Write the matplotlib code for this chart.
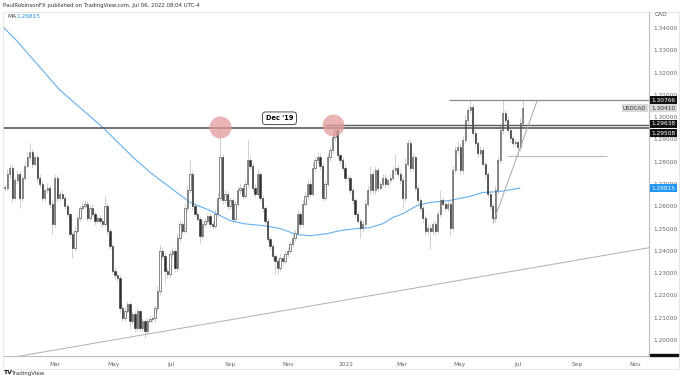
import numpy as np
import matplotlib
matplotlib.use('Agg')
import matplotlib.pyplot as plt
import matplotlib.dates as mdates
from matplotlib.transforms import blended_transform_factory
from matplotlib.patches import Rectangle

plt.rcParams['font.family'] = ['DejaVu Sans']

# ---- USDCAD daily closes, Jan 2021 -> Jul 2022 ----
closes = [
    1.2684, 1.2747, 1.2774, 1.2639, 1.2716, 1.2747, 1.2639, 1.2729, 1.2783, 1.2819, 1.2842, 1.2792, 1.2819, 1.2729, 1.2702, 1.2639,
    1.2671, 1.2684, 1.2612, 1.2522, 1.2729, 1.2639, 1.2657, 1.2639, 1.2603, 1.2567, 1.2477, 1.2414, 1.2491, 1.2549, 1.2594, 1.2603,
    1.2612, 1.2549, 1.2594, 1.2567, 1.2536, 1.2549, 1.2536, 1.2522, 1.2603, 1.2491, 1.2423, 1.2311, 1.2293, 1.2279, 1.2144, 1.2099,
    1.2131, 1.2162, 1.2086, 1.2117, 1.2054, 1.2131, 1.2054, 1.2086, 1.2041, 1.2086, 1.2095, 1.2099, 1.2144, 1.2221, 1.2401, 1.2378,
    1.2311, 1.2297, 1.2387, 1.2401, 1.2324, 1.2459, 1.2522, 1.2491, 1.2594, 1.2671, 1.2747, 1.2603, 1.2567, 1.2545, 1.2468, 1.2522,
    1.2536, 1.2558, 1.2522, 1.2513, 1.2567, 1.2639, 1.2819, 1.2626, 1.2657, 1.2603, 1.2626, 1.2545, 1.2612, 1.2671, 1.2684, 1.2648,
    1.2702, 1.2806, 1.2783, 1.2684, 1.2657, 1.2747, 1.2639, 1.2594, 1.2536, 1.2455, 1.2423, 1.2378, 1.2356, 1.2324, 1.2369, 1.2356,
    1.2387, 1.2401, 1.2432, 1.2459, 1.2482, 1.2567, 1.2522, 1.2612, 1.2648, 1.2702, 1.2657, 1.2774, 1.2806, 1.2819, 1.2783, 1.2639,
    1.2702, 1.2819, 1.2851, 1.2909, 1.2941, 1.2828, 1.2806, 1.2774, 1.2725, 1.2729, 1.2671, 1.2626, 1.2567, 1.2536, 1.2504, 1.2522,
    1.2612, 1.2671, 1.2747, 1.2671, 1.2761, 1.2684, 1.2702, 1.2729, 1.2702, 1.2716, 1.2729, 1.2761, 1.2774, 1.2747, 1.2716, 1.2639,
    1.2792, 1.2882, 1.2774, 1.2819, 1.2684, 1.2626, 1.2594, 1.2549, 1.2491, 1.2504, 1.2491, 1.2522, 1.2491, 1.2567, 1.2626, 1.2612,
    1.2594, 1.2612, 1.2504, 1.2761, 1.2851, 1.2864, 1.2761, 1.2896, 1.2986, 1.3031, 1.3044, 1.2927, 1.2882, 1.2837, 1.2851, 1.2792,
    1.2747, 1.2657, 1.2603, 1.2549, 1.2671, 1.2806, 1.2941, 1.3017, 1.2986, 1.2941, 1.2905, 1.2882, 1.2887, 1.2864, 1.2972, 1.3040,
]
# upper / lower wick lengths in pips
wick_up = [
    12, 20, 15, 10, 14, 18, 12, 10, 20, 25, 40, 15, 12, 10, 18, 14,
    12, 20, 10, 15, 18, 12, 10, 14, 12, 10, 8, 12, 20, 15, 12, 18,
    14, 10, 12, 15, 10, 12, 14, 10, 45, 12, 10, 8, 15, 10, 12, 14,
    18, 15, 10, 12, 14, 16, 10, 12, 10, 15, 12, 10, 14, 20, 25, 15,
    12, 10, 18, 15, 12, 20, 18, 12, 20, 25, 59, 12, 10, 14, 10, 15,
    12, 14, 10, 12, 15, 20, 135, 15, 18, 12, 14, 10, 15, 18, 20, 12,
    18, 90, 20, 12, 14, 25, 12, 10, 8, 12, 10, 14, 10, 12, 15, 12,
    14, 18, 12, 15, 18, 20, 12, 18, 15, 20, 14, 25, 15, 23, 18, 12,
    15, 20, 18, 20, 31, 15, 12, 14, 18, 12, 10, 14, 10, 12, 10, 15,
    20, 18, 36, 15, 20, 14, 12, 18, 14, 12, 15, 20, 60, 14, 12, 15,
    25, 14, 20, 18, 12, 10, 14, 10, 12, 15, 10, 14, 12, 18, 45, 14,
    12, 15, 10, 20, 18, 25, 14, 20, 25, 20, 32, 15, 18, 12, 20, 14,
    12, 10, 12, 10, 18, 20, 25, 59, 15, 18, 12, 15, 14, 12, 25, 36,
]
wick_dn = [
    15, 12, 18, 20, 12, 15, 45, 14, 12, 10, 15, 18, 12, 20, 15, 18,
    14, 12, 20, 45, 14, 18, 15, 12, 14, 15, 18, 45, 15, 12, 14, 10,
    12, 15, 14, 10, 18, 12, 15, 14, 10, 18, 15, 14, 20, 15, 18, 14,
    15, 12, 36, 14, 18, 12, 15, 12, 32, 14, 12, 15, 18, 14, 20, 15,
    50, 18, 14, 15, 20, 14, 18, 15, 12, 14, 12, 18, 15, 12, 31, 14,
    15, 12, 18, 14, 12, 15, 14, 18, 12, 15, 14, 18, 15, 12, 14, 15,
    12, 14, 15, 18, 14, 12, 15, 20, 18, 15, 18, 20, 59, 27, 15, 18,
    14, 15, 12, 14, 15, 12, 18, 14, 12, 15, 14, 12, 15, 14, 18, 13,
    15, 12, 14, 12, 15, 14, 18, 15, 14, 12, 15, 18, 14, 15, 45, 18,
    14, 12, 15, 18, 14, 15, 12, 14, 15, 12, 14, 12, 15, 14, 18, 45,
    14, 12, 18, 15, 14, 18, 15, 20, 18, 15, 81, 20, 18, 15, 14, 12,
    15, 14, 36, 15, 12, 14, 18, 14, 12, 15, 14, 18, 15, 14, 12, 15,
    18, 15, 20, 22, 18, 14, 12, 15, 14, 12, 15, 14, 12, 45, 14, 12,
]
bar_first, bar_last = '2021-01-07', '2022-07-06'

# 200-day MA
ma_dates = ['2021-01-04', '2021-01-18', '2021-03-06', '2021-04-20', '2021-05-22', '2021-06-09',
            '2021-06-30', '2021-07-21', '2021-08-11', '2021-09-01', '2021-09-15', '2021-10-06',
            '2021-10-24', '2021-11-10', '2021-11-24', '2021-12-12', '2021-12-26', '2022-01-13',
            '2022-01-26', '2022-02-09', '2022-02-19', '2022-03-02', '2022-03-17', '2022-03-30',
            '2022-04-20', '2022-05-11', '2022-05-25', '2022-06-12', '2022-07-03']
ma_vals = [1.3409, 1.3350, 1.3121, 1.2954, 1.2819, 1.2752,
           1.2684, 1.2617, 1.2581, 1.2536, 1.2522, 1.2513,
           1.2500, 1.2473, 1.2468, 1.2477, 1.2491, 1.2500,
           1.2504, 1.2522, 1.2549, 1.2567, 1.2603, 1.2617,
           1.2626, 1.2644, 1.2662, 1.2666, 1.26815]

# drawn levels / lines
res_full = 1.29508
res_dec = (1.29638, '2021-12-10')
res_top = (1.30766, '2022-04-19')
sup_short = (1.2824, '2022-06-19', '2022-10-03')
trend_long = (['2021-01-23', '2022-11-16'], [1.1928, 1.2414])
trend_steep = (['2022-06-05', '2022-07-21'], [1.2527, 1.3071])
circles = (['2021-08-21', '2021-12-18'], [1.2954, 1.2963])
note = ('Dec \'19', '2021-10-23', 1.2995)

last_price, ma_last = 1.30410, 1.26815
month_ticks = ['2021-03-01', '2021-05-01', '2021-07-01', '2021-09-01', '2021-11-01', '2022-01-01',
               '2022-03-01', '2022-05-01', '2022-07-01', '2022-09-01', '2022-11-01']
month_labels = ['Mar', 'May', 'Jul', 'Sep', 'Nov', '2022', 'Mar', 'May', 'Jul', 'Sep', 'Nov']
price_ticks = np.round(np.arange(1.20, 1.3401, 0.01), 2)

d = mdates.datestr2num
W, H = 680, 380
fig = plt.figure(figsize=(W / 100, H / 100), dpi=100)
ax = fig.add_axes([3 / W, (H - 356) / H, 646 / W, 344 / H])

x = np.linspace(d(bar_first), d(bar_last), len(closes))
c = np.array(closes); o = np.r_[c[0], c[:-1]]
hi = np.maximum(o, c) + np.array(wick_up) / 1e4
lo = np.minimum(o, c) - np.array(wick_dn) / 1e4
up = c >= o
body = np.maximum(np.abs(c - o), 0.0003)
ax.vlines(x, lo, hi, color='#c8c8c8', lw=0.6, zorder=2)
ax.bar(x[up], body[up], bottom=o[up], width=1.2, color='white', edgecolor='#303030', lw=0.4, zorder=3)
ax.bar(x[~up], body[~up], bottom=c[~up], width=1.2, color='#303030', edgecolor='#303030', lw=0.4, zorder=3)

ax.plot(d(ma_dates), ma_vals, color='#64b0f0', lw=0.8, zorder=2)

xmin, xmax = d('2021-01-05'), d('2022-11-16')
ax.axhline(res_full, color='#4d4d4d', lw=1.1, zorder=4)
ax.hlines(res_dec[0], d(res_dec[1]), xmax, color='#5a5a5a', lw=1.0, zorder=4)
ax.hlines(res_top[0], d(res_top[1]), xmax, color='#8c8c8c', lw=0.9, zorder=4)
ax.hlines(sup_short[0], d(sup_short[1]), d(sup_short[2]), color='#bdbdbd', lw=0.8, zorder=4)
ax.plot(d(trend_long[0]), trend_long[1], color='#b0b0b0', lw=0.7, zorder=4)
ax.plot(d(trend_steep[0]), trend_steep[1], color='#a8a8a8', lw=0.7, zorder=4)
ax.scatter(d(circles[0]), circles[1], s=250, color='#e39a9c', alpha=0.75, lw=0, zorder=5)
ax.text(d(note[1]), note[2], note[0], fontsize=4.8, fontweight='bold', ha='center', va='center', zorder=6,
        bbox=dict(boxstyle='round,pad=0.5,rounding_size=0.5', fc='white', ec='#333333', lw=0.6))

ax.set_xlim(xmin, xmax)
ax.set_ylim(1.1928, 1.3472)
ax.set_xticks(d(month_ticks))
ax.set_xticklabels(month_labels)
for lab in ax.get_xticklabels():
    lab.set_color('#222222' if lab.get_text() == '2022' else '#666666')
ax.yaxis.tick_right()
ax.set_yticks(price_ticks)
ax.set_yticklabels([f'{v:.5f}' for v in price_ticks])
ax.tick_params(axis='both', length=0, labelsize=4.2, colors='#666666', pad=3)
ax.tick_params(axis='x', pad=4)
for s in ['top', 'left']:
    ax.spines[s].set_visible(False)
for s in ['right', 'bottom']:
    ax.spines[s].set_color('#bdbdbd')
    ax.spines[s].set_linewidth(0.8)

# price axis tags (the 1.29508 tag sits just below its line so the two stacked tags do not collide)
tr = blended_transform_factory(ax.transAxes, ax.transData)
def tag(val, fc, tc, dy=0):
    ax.annotate(f'{val:.5f}', (1.004, val), xycoords=tr, xytext=(0, dy), textcoords='offset points',
                fontsize=4.2, color=tc, va='center', ha='left', zorder=7, annotation_clip=False,
                bbox=dict(boxstyle='square,pad=0.25', fc=fc, ec='none'))
tag(res_top[0], '#131313', 'white')
tag(last_price, '#d9d9d9', '#333333')
tag(res_dec[0], '#131313', 'white', 1.0)
tag(res_full, '#131313', 'white', -3.6)
tag(ma_last, '#2196f3', 'white')
ax.text(0.996, last_price, 'USDCAD', transform=tr, fontsize=4.0, color='#333333', va='center', ha='right',
        zorder=7, bbox=dict(boxstyle='square,pad=0.25', fc='#d9d9d9', ec='none'))
ax.add_patch(Rectangle((1.0, 0.0), 0.047, 0.006, transform=ax.transAxes, color='#111111', clip_on=False))

# header / footer texts
fig.text(3 / W, 1 - 5 / H, 'PaulRobinsonFX published on TradingView.com, Jul 06, 2022 08:04 UTC-4',
         fontsize=3.9, color='#333333', va='center')
fig.text(7 / W, 1 - 16 / H, 'MA', fontsize=4.2, color='#444444', va='center')
fig.text(16 / W, 1 - 16 / H, f'{ma_last:.5f}', fontsize=4.2, color='#2196f3', va='center')
fig.text(655 / W, 1 - 15 / H, 'CAD', fontsize=4.2, color='#555555', va='center')
fig.text(3 / W, 1 - 373 / H, 'TV', fontsize=4.5, fontweight='bold', color='#131313', va='center')
fig.text(11 / W, 1 - 373 / H, 'TradingView', fontsize=4.0, color='#333333', va='center')
fig.patches.append(Rectangle((3 / W, 1 - 369 / H), 676 / W, 357 / H, transform=fig.transFigure,
                             fill=False, ec='#e3e3e3', lw=0.6))

fig.savefig('out.png', dpi=100)
